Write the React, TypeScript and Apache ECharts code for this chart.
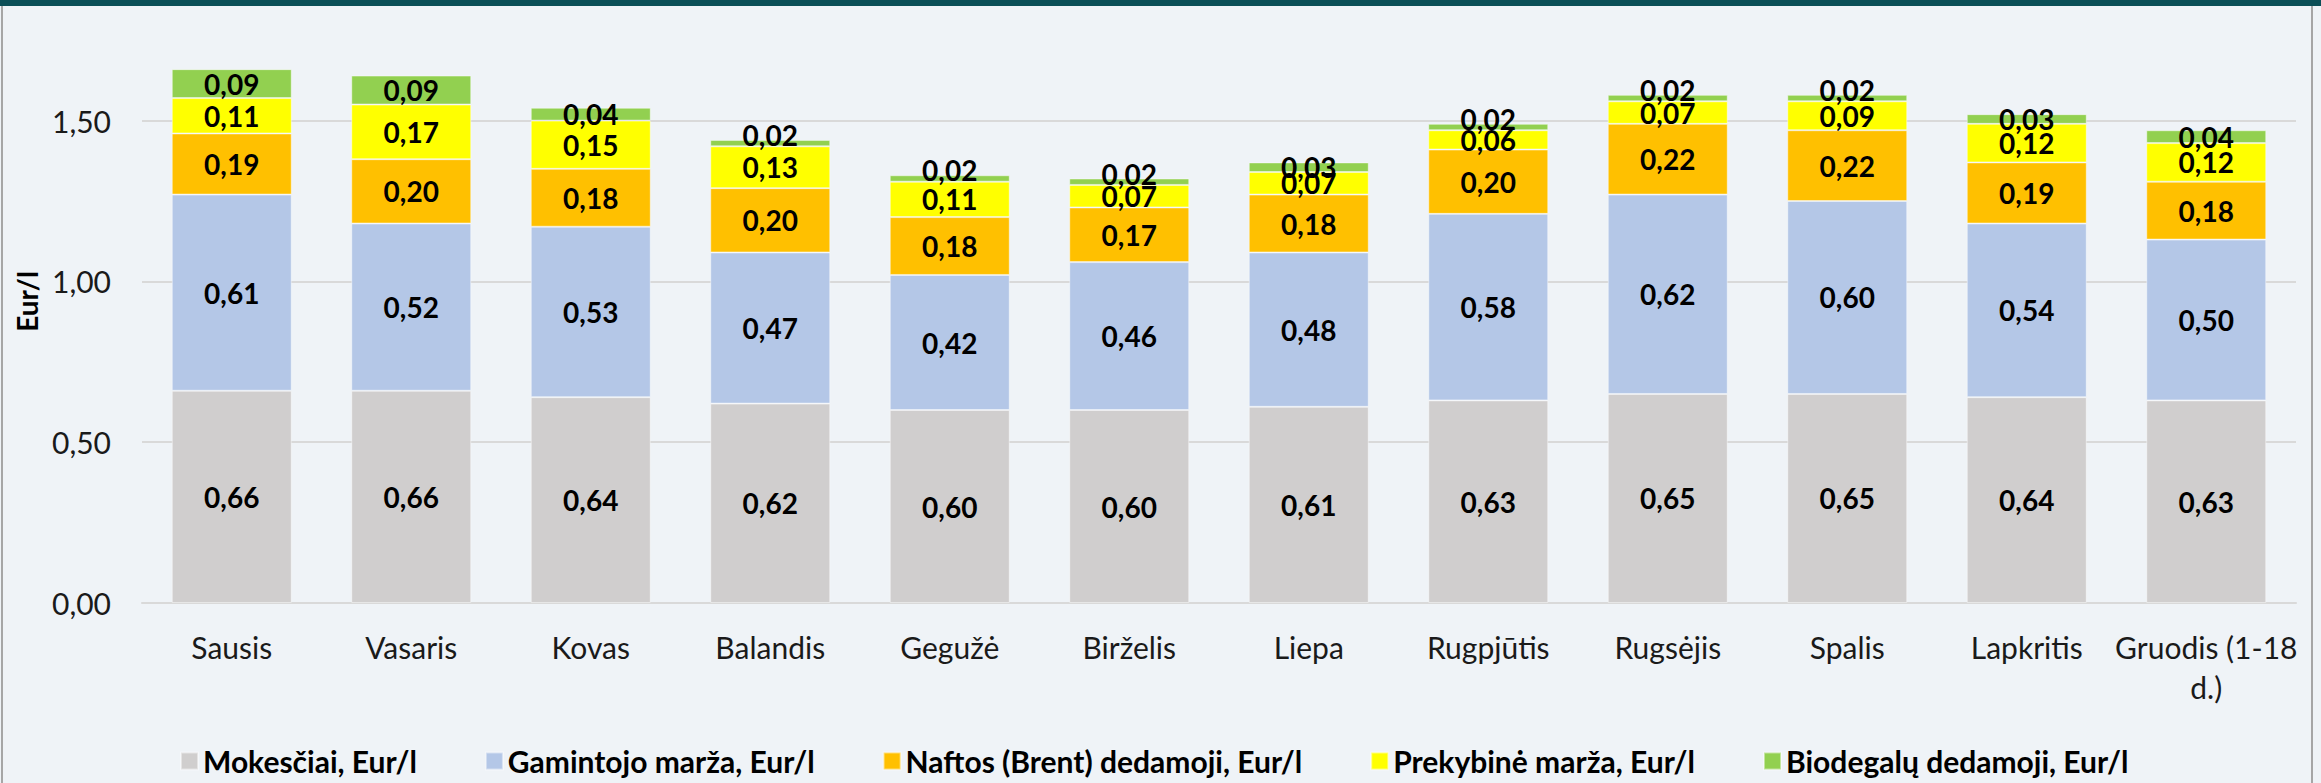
import React, { useEffect, useRef } from "react";
import * as echarts from "echarts";

const categories = [
  "Sausis", "Vasaris", "Kovas", "Balandis", "Gegužė", "Birželis",
  "Liepa", "Rugpjūtis", "Rugsėjis", "Spalis", "Lapkritis", "Gruodis (1-18\nd.)",
];

const seriesNames = [
  "Mokesčiai, Eur/l",
  "Gamintojo marža, Eur/l",
  "Naftos (Brent) dedamoji, Eur/l",
  "Prekybinė marža, Eur/l",
  "Biodegalų dedamoji, Eur/l",
];

const mokesciai = [0.66, 0.66, 0.64, 0.62, 0.60, 0.60, 0.61, 0.63, 0.65, 0.65, 0.64, 0.63];
const gamintojoMarza = [0.61, 0.52, 0.53, 0.47, 0.42, 0.46, 0.48, 0.58, 0.62, 0.60, 0.54, 0.50];
const naftosDedamoji = [0.19, 0.20, 0.18, 0.20, 0.18, 0.17, 0.18, 0.20, 0.22, 0.22, 0.19, 0.18];
const prekybineMarza = [0.11, 0.17, 0.15, 0.13, 0.11, 0.07, 0.07, 0.06, 0.07, 0.09, 0.12, 0.12];
const biodegaluDedamoji = [0.09, 0.09, 0.04, 0.02, 0.02, 0.02, 0.03, 0.02, 0.02, 0.02, 0.03, 0.04];

const yTicks = [0, 0.5, 1.0, 1.5];

const colors = ["#d0cece", "#b4c7e7", "#ffc000", "#ffff00", "#92d050"];

const fmt = (v: number) => v.toFixed(2).replace(".", ",");

export default function App() {
  const ref = useRef<HTMLDivElement>(null);

  useEffect(() => {
    if (!ref.current) return;
    const chart = echarts.init(ref.current, undefined, { renderer: "svg" });
    const allData = [mokesciai, gamintojoMarza, naftosDedamoji, prekybineMarza, biodegaluDedamoji];

    const series = allData.map((arr, si) => ({
      name: seriesNames[si],
      type: "bar",
      stack: "total",
      barWidth: 120,
      itemStyle: { color: colors[si], borderColor: "rgba(255,255,255,0.45)", borderWidth: 1 },
      label: {
        show: true,
        position: "inside",
        fontFamily: "Lato",
        fontWeight: "bold",
        fontSize: 28,
        color: "#000",
        formatter: (p: any) => fmt(p.value),
      },
      data: arr.map((v) =>
        si === 4 && v <= 0.02 ? { value: v, label: { offset: [0, -8] } } : v
      ),
    }));

    chart.setOption({
      animation: false,
      backgroundColor: "#eff3f7",
      grid: { left: 142, right: 25, top: 0, bottom: 180 },
      xAxis: {
        type: "category",
        data: categories,
        axisTick: { show: false },
        axisLine: { lineStyle: { color: "#d9d9d9", width: 2 } },
        axisLabel: {
          fontFamily: "Lato",
          fontSize: 30,
          color: "#1a1a1a",
          margin: 24,
          lineHeight: 40,
          interval: 0,
        },
      },
      yAxis: {
        type: "value",
        min: 0,
        max: 1.875,
        interval: 0.5,
        name: "Eur/l",
        nameLocation: "middle",
        nameGap: 100,
        nameTextStyle: {
          fontFamily: "Lato",
          fontWeight: "bold",
          fontSize: 28,
          color: "#000",
          padding: [0, 0, 0, 0],
        },
        axisLabel: {
          fontFamily: "Lato",
          fontSize: 30,
          color: "#1a1a1a",
          margin: 31,
          showMaxLabel: false,
          formatter: (v: number) => (yTicks.some((t) => Math.abs(t - v) < 1e-9) ? fmt(v) : ""),
        },
        splitLine: { lineStyle: { color: "#d9d9d9", width: 2 } },
        axisLine: { show: false },
        axisTick: { show: false },
      },
      legend: {
        data: seriesNames,
        left: 175,
        top: 741,
        itemWidth: 17,
        itemHeight: 17,
        itemGap: 68,
        icon: "rect",
        textStyle: { fontFamily: "Lato", fontWeight: "bold", fontSize: 30, color: "#000" },
      },
      graphic: [
        { type: "rect", left: 0, top: 0, shape: { width: 2321, height: 6 }, style: { fill: "#0b4f57" }, z: 100 },
        { type: "line", shape: { x1: 2, y1: 6, x2: 2, y2: 783 }, style: { stroke: "#a6a6a6", lineWidth: 2 }, z: 100 },
        { type: "line", shape: { x1: 2312, y1: 6, x2: 2312, y2: 783 }, style: { stroke: "#a6a6a6", lineWidth: 2 }, z: 100 },
      ],
      series,
    });
    return () => chart.dispose();
  }, []);

  return (
    <div
      ref={ref}
      style={{ position: "fixed", left: 0, top: 0, width: 2321, height: 783 }}
    />
  );
}
